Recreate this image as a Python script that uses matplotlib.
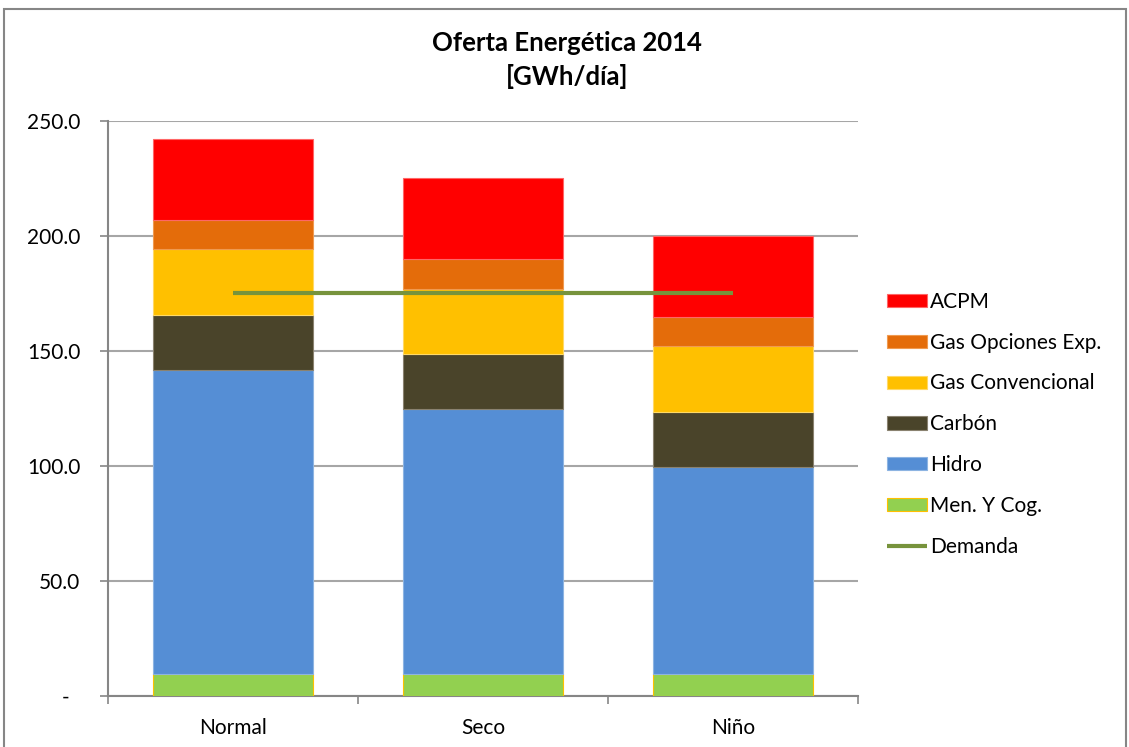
import numpy as np
import matplotlib
matplotlib.use('Agg')
from matplotlib import pyplot as plt
from matplotlib.patches import Rectangle

plt.rcParams['font.family'] = ['Lato', 'DejaVu Sans']

escenarios = ['Normal', 'Seco', 'Niño']
men_cog = [9.4, 9.4, 9.4]
hidro = [132.4, 115.2, 90.1]
carbon = [23.7, 23.9, 23.9]
gas_conv = [28.7, 28.5, 28.7]
gas_opc = [12.5, 12.8, 12.6]
acpm = [35.3, 35.2, 35.3]
demanda = [175.0, 175.0, 175.0]

yticks = [0, 50, 100, 150, 200, 250]
ytick_labels = ['-', '50.0', '100.0', '150.0', '200.0', '250.0']

fig = plt.figure(figsize=(11.29, 7.47), dpi=100)
ax = fig.add_axes([0.0957, 0.0687, 0.6643, 0.7694])

x = np.arange(len(escenarios))
w = 0.64
bottom = np.zeros(len(escenarios))
series = [
    (men_cog, 'Men. Y Cog.', '#92D050', '#FFC000'),
    (hidro, 'Hidro', '#558ED5', '#8DB4E2'),
    (carbon, 'Carbón', '#4A442A', '#8A8270'),
    (gas_conv, 'Gas Convencional', '#FFC000', '#FFD966'),
    (gas_opc, 'Gas Opciones Exp.', '#E46C0A', '#F09A50'),
    (acpm, 'ACPM', '#FF0000', '#FF6666'),
]
handles = []
for vals, lab, col, ec in series:
    b = ax.bar(x, vals, w, bottom=bottom, color=col, edgecolor=ec, linewidth=0.8, label=lab, zorder=3)
    bottom += np.array(vals)
    handles.append(b)

ln, = ax.plot(x, demanda, color='#77933C', linewidth=3, solid_capstyle='butt', label='Demanda', zorder=4)

ax.set_xlim(-0.5, 2.5)
ax.set_ylim(0, 250)
ax.set_yticks(yticks)
ax.set_yticklabels(ytick_labels)
ax.set_xticks(x)
ax.set_xticklabels(escenarios)
ax.set_xticks([-0.5, 0.5, 1.5, 2.5], minor=True)
ax.tick_params(axis='x', which='major', length=0, pad=16, labelsize=15)
ax.tick_params(axis='x', which='minor', length=6, width=1.2, color='#868686', direction='out')
ax.tick_params(axis='y', length=6, width=1.2, color='#868686', pad=14, labelsize=15)
for lbl in ax.get_yticklabels():
    if lbl.get_text() == '-':
        lbl.set_x(-0.015)

ax.grid(axis='y', color='#A6A6A6', linewidth=1.5, zorder=0)
ax.set_axisbelow(True)
for s in ['top', 'right']:
    ax.spines[s].set_visible(False)
for s in ['left', 'bottom']:
    ax.spines[s].set_color('#868686')
    ax.spines[s].set_linewidth(1.5)

leg_handles = handles[::-1] + [ln]
leg_labels = [h.get_label() for h in leg_handles]
fig.legend(leg_handles, leg_labels, loc='center left', bbox_to_anchor=(0.7765, 0.432),
           frameon=False, fontsize=15, handlelength=1.9, handleheight=0.6,
           handletextpad=0.15, labelspacing=1.0, borderpad=0)

fig.text(0.502, 0.943, 'Oferta Energética 2014', ha='center', va='center', fontsize=18.5, fontweight='bold')
fig.text(0.502, 0.897, '[GWh/día]', ha='center', va='center', fontsize=18.5, fontweight='bold')

fig.patches.append(Rectangle((0.0035, -0.02), 0.9935, 1.008, transform=fig.transFigure,
                             fill=False, edgecolor='#868686', linewidth=1.5))

fig.savefig('out.png', dpi=100)
